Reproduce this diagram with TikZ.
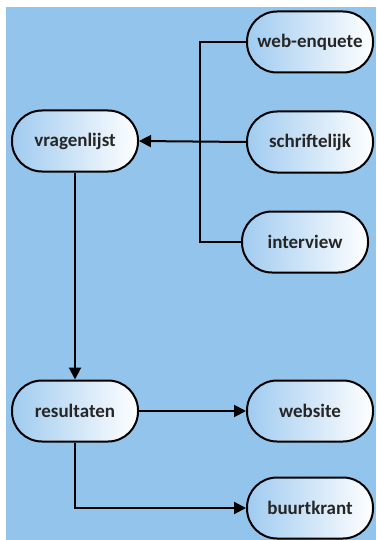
\documentclass[tikz,border=0pt]{standalone}
\usepackage{fontspec}
\setmainfont{Carlito}
\usetikzlibrary{arrows.meta}
\definecolor{bgblue}{RGB}{146,196,236}
\definecolor{boxblue}{RGB}{160,203,240}
\tikzset{
	stap/.style={draw, line width=2pt, rounded corners=30pt, minimum width=126pt, minimum height=61pt,
		left color=boxblue, right color=white, font=\fontsize{19}{22}\selectfont\bfseries, text=black!85},
	pijl/.style={line width=2pt, -{Triangle[length=12pt,width=12pt]}},
	lijn/.style={line width=2pt}
}
\begin{document}
\begin{tikzpicture}[x=1pt,y=-1pt]
		\fill[white] (0,0) rectangle (376,540);
		\fill[bgblue] (6,7) rectangle (376,540);
		\useasboundingbox (0,0) rectangle (376,540);
		
		\node[stap] (web) at (310, 42) {web-enquete};
		\node[stap] (schrift) at (310, 142) {schriftelijk};
		\node[stap] (interv) at (305, 242) {interview};
		\node[stap] (vragen) at (75, 141) {vragenlijst};
		\node[stap] (result) at (75, 411) {resultaten};
		\node[stap] (website) at (310, 411) {website};
		\node[stap] (buurt) at (310, 508) {buurtkrant};
		\coordinate (bus) at (200, 42);
		
		\draw[lijn] (web.west) -- (bus) |- (interv.west);
		\draw[pijl] (schrift.west) -- (vragen.east);
		\draw[pijl] (vragen) -- (result);
		\draw[pijl] (result) -- (website);
		\draw[pijl] (result) |- (buurt);
		\end{tikzpicture}
\end{document}
